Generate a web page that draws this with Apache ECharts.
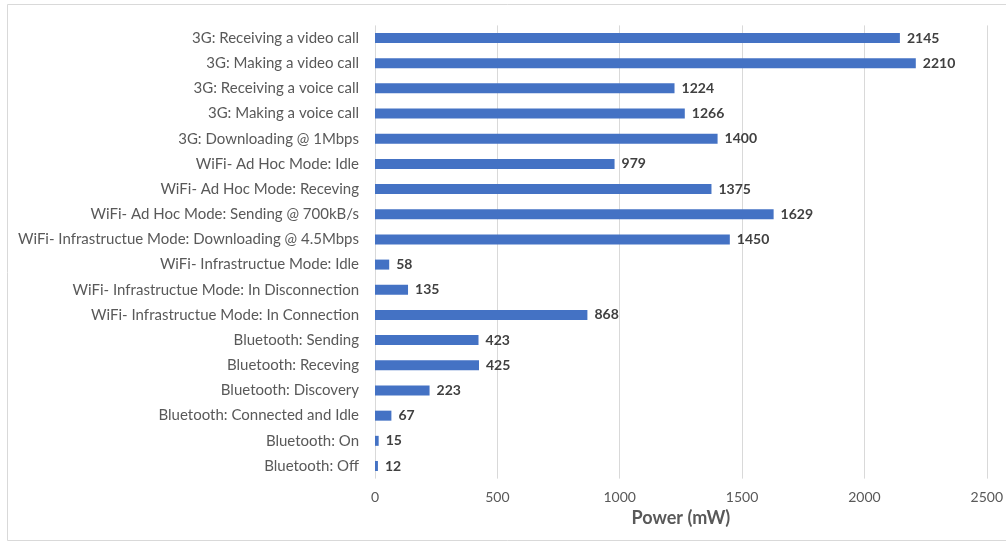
<!DOCTYPE html>
<html>
<head>
<meta charset="utf-8">
<script src="https://cdn.jsdelivr.net/npm/echarts@6/dist/echarts.min.js"></script>
<style>
  html, body { margin: 0; padding: 0; background: #fff; }
  #chart { width: 1006px; height: 544px; }
</style>
</head>
<body>
<div id="chart"></div>
<script>
// Power draw per activity, listed bottom-to-top as shown on the category axis
const categories = [
  'Bluetooth: Off',
  'Bluetooth: On',
  'Bluetooth: Connected and Idle',
  'Bluetooth: Discovery',
  'Bluetooth: Receving',
  'Bluetooth: Sending',
  'WiFi- Infrastructue Mode: In Connection',
  'WiFi- Infrastructue Mode: In Disconnection',
  'WiFi- Infrastructue Mode: Idle',
  'WiFi- Infrastructue Mode: Downloading @ 4.5Mbps',
  'WiFi- Ad Hoc Mode: Sending @ 700kB/s',
  'WiFi- Ad Hoc Mode: Receving',
  'WiFi- Ad Hoc Mode: Idle',
  '3G: Downloading @ 1Mbps',
  '3G: Making a voice call',
  '3G: Receiving a voice call',
  '3G: Making a video call',
  '3G: Receiving a video call'
];
const powerValues = [12, 15, 67, 223, 425, 423, 868, 135, 58, 1450, 1629, 1375, 979, 1400, 1266, 1224, 2210, 2145];

const FONT = 'Lato, "Liberation Sans", sans-serif';

const chart = echarts.init(document.getElementById('chart'), null, { renderer: 'canvas' });
chart.setOption({
  animation: false,
  backgroundColor: '#ffffff',
  textStyle: { fontFamily: FONT },
  graphic: [{
    type: 'rect',
    shape: { x: 7.5, y: 4.5, width: 1010, height: 536 },
    style: { fill: 'none', stroke: '#d9d9d9', lineWidth: 1 },
    silent: true
  }],
  grid: { left: 375, right: 17, top: 25.4, bottom: 65.4, containLabel: false },
  xAxis: {
    type: 'value',
    min: 0, max: 2500, interval: 500,
    name: 'Power (mW)',
    nameLocation: 'middle',
    nameGap: 31,
    nameTextStyle: { color: '#595959', fontSize: 18, fontWeight: 'bold', fontFamily: FONT },
    axisLine: { show: false },
    axisTick: { show: false },
    axisLabel: { color: '#595959', fontSize: 14, margin: 12, fontFamily: FONT, formatter: v => String(v) },
    splitLine: { show: true, lineStyle: { color: '#d9d9d9', width: 1 } }
  },
  yAxis: {
    type: 'category',
    data: categories,
    axisLine: { show: false },
    axisTick: { show: false },
    axisLabel: { color: '#595959', fontSize: 15, margin: 16, fontFamily: FONT },
    splitLine: { show: false }
  },
  series: [{
    type: 'bar',
    data: powerValues,
    barWidth: 10,
    itemStyle: { color: '#4472c4' },
    label: {
      show: true,
      position: 'right',
      distance: 7,
      color: '#404040',
      fontSize: 14,
      fontWeight: 'bold',
      fontFamily: FONT
    }
  }]
});
</script>
</body>
</html>
